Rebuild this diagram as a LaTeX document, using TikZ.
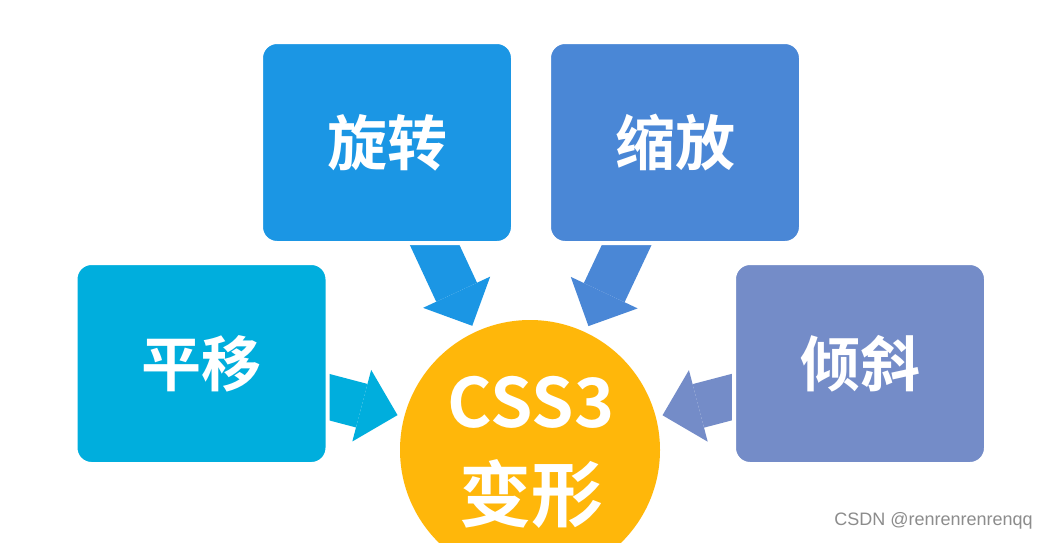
\documentclass[tikz,border=0pt]{standalone}
\usepackage{fontspec}
\newfontfamily\cjk{Noto Sans CJK SC}[BoldFont={Noto Sans CJK SC Bold}]
\newfontfamily\wmfont{Liberation Sans}
\usetikzlibrary{arrows.meta,calc,backgrounds}
\definecolor{cRot}{RGB}{27,150,228}
\definecolor{cSca}{RGB}{74,135,214}
\definecolor{cTra}{RGB}{0,174,221}
\definecolor{cSke}{RGB}{116,140,200}
\definecolor{cCir}{RGB}{255,183,10}
\definecolor{cWm}{RGB}{140,140,140}
\begin{document}
\begin{tikzpicture}[x=1pt,y=-1pt,
  box/.style={rectangle, rounded corners=16pt, draw=white, line width=4pt,
    minimum width=252pt, minimum height=201pt, inner sep=0pt, text=white,
    font=\cjk\bfseries\fontsize{60}{60}\selectfont},
  bigarrow/.style={line width=45pt, -{Triangle[width=74pt,length=37pt,line width=0pt]}},
  circtext/.style={text=white, inner sep=0pt}]
\useasboundingbox (0,0) rectangle (1049,542);
\clip (0,0) rectangle (1049,542);
% central circle
\node[circle, fill=cCir, minimum size=260pt, inner sep=0pt] (circ) at (530,450) {};
\node[circtext, anchor=base, font=\cjk\bfseries\fontsize{68}{68}\selectfont] (css) at (531,427) {CSS3};
\node[circtext, font=\cjk\bfseries\fontsize{72}{72}\selectfont] (bx) at (531,494) {变形};
% boxes
\node[box, fill=cRot] (rot) at (387,142.5) {旋转};
\node[box, fill=cSca] (sca) at (675,142.5) {缩放};
\node[box, fill=cTra] (tra) at (201.5,363.5) {平移};
\node[box, fill=cSke] (ske) at (860,363.5) {倾斜};
% arrow tips
\coordinate (t1) at ($(circ.center)!137pt!(rot.center)$);
\coordinate (t2) at ($(circ.center)!137pt!(sca.center)$);
\coordinate (t3) at ($(circ.center)!137pt!(tra.center)$);
\coordinate (t4) at ($(circ.center)!137pt!(ske.center)$);
\begin{pgfonlayer}{background}
\fill[white] (0,0) rectangle (1049,542);
\draw[bigarrow, cRot] (rot.center) -- (t1);
\draw[bigarrow, cSca] (sca.center) -- (t2);
\draw[bigarrow, cTra] (tra.center) -- (t3);
\draw[bigarrow, cSke] (ske.center) -- (t4);
\end{pgfonlayer}
% watermark
\node[font=\wmfont\fontsize{18}{18}\selectfont, text=cWm, anchor=east, inner sep=0pt] (wm) at (1033,521) {CSDN @renrenrenrenqq};
\end{tikzpicture}
\end{document}
